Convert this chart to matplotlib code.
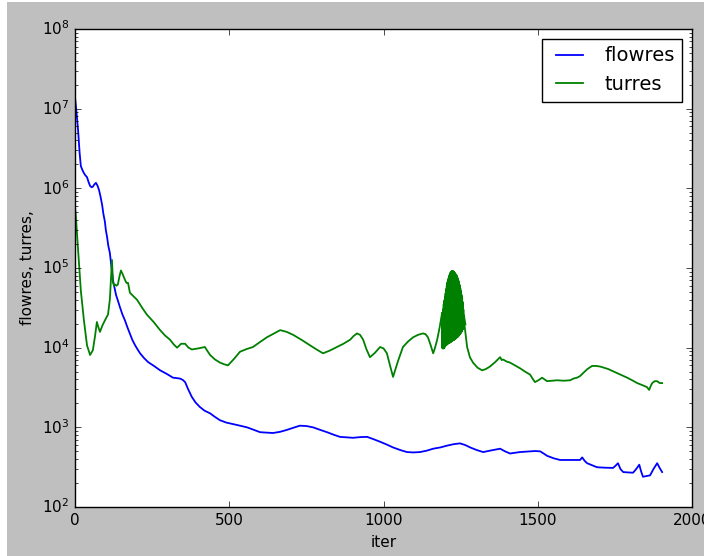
import numpy as np
import matplotlib
matplotlib.use('Agg')
import matplotlib.pyplot as plt
from matplotlib.patches import Rectangle

# Residual histories
flow_iter = [0, 5, 10, 15, 19, 24, 29, 34, 39, 44, 49, 54, 58, 63, 68, 73, 78, 83,
             88, 92, 97, 100, 104, 108, 113, 118, 123, 128, 133, 140, 146, 154,
             162, 170, 178, 186, 195, 203, 211, 224, 237, 256, 276, 297, 318,
             330, 340, 349, 357, 367, 379, 391, 405, 420, 438, 454, 470, 490,
             512, 535, 558, 580, 600, 620, 642, 665, 687, 708, 729, 750, 772,
             795, 817, 838, 859, 880, 901, 925, 947, 968, 989, 1010, 1031, 1054,
             1076, 1097, 1118, 1140, 1161, 1184, 1206, 1227, 1248, 1265, 1281,
             1302, 1323, 1350, 1378, 1394, 1410, 1442, 1475, 1492, 1508, 1519,
             1530, 1551, 1572, 1605, 1637, 1644, 1652, 1660, 1676, 1692, 1718,
             1744, 1752, 1760, 1768, 1777, 1793, 1809, 1819, 1829, 1835, 1841,
             1852, 1864, 1875, 1887, 1895, 1903]
flowres = [1.4e7, 9.0e6, 5.4e6, 2.8e6, 1.9e6, 1.7e6, 1.55e6, 1.45e6, 1.38e6,
           1.2e6, 1.07e6, 1.03e6, 1.05e6, 1.12e6, 1.17e6, 1.08e6, 9.5e5, 7.8e5,
           6.2e5, 4.8e5, 3.8e5, 3.0e5, 2.45e5, 1.9e5, 1.55e5, 1.05e5, 7.1e4,
           5.7e4, 4.6e4, 3.8e4, 3.2e4, 2.6e4, 2.2e4, 1.8e4, 1.5e4, 1.25e4,
           1.07e4, 9.5e3, 8.5e3, 7.4e3, 6.6e3, 5.9e3, 5.2e3, 4.7e3, 4.2e3,
           4.15e3, 4.1e3, 3.95e3, 3.7e3, 3.0e3, 2.4e3, 2.05e3, 1.8e3, 1.62e3,
           1.5e3, 1.35e3, 1.23e3, 1.15e3, 1.1e3, 1.05e3, 1.0e3, 930, 870, 860,
           850, 880, 930, 990, 1050, 1040, 1000, 930, 870, 810, 760, 750, 740,
           755, 760, 710, 660, 610, 560, 520, 490, 485, 490, 510, 540, 560, 590,
           615, 630, 600, 560, 520, 490, 515, 540, 500, 470, 490, 500, 505, 500,
           470, 440, 410, 390, 390, 390, 420, 380, 355, 335, 316, 312, 310, 330,
           355, 300, 275, 272, 270, 300, 340, 280, 240, 245, 250, 300, 355, 310,
           275]

turr_iter = [0, 3, 10, 19, 29, 39, 49, 58, 65, 71, 76, 81, 89, 97, 102, 107, 113,
             120, 123, 127, 130, 135, 139, 144, 149, 155, 162, 167, 172, 178,
             190, 201, 217, 233, 255, 276, 292, 308, 320, 331, 344, 357, 368,
             379, 400, 421, 430, 438, 454, 470, 483, 496, 515, 535, 556, 577,
             600, 622, 644, 665, 686, 707, 735, 762, 783, 804, 826, 849, 870,
             892, 903, 914, 924, 934, 945, 956, 972, 989, 1000, 1011, 1021, 1031,
             1047, 1063, 1080, 1096, 1112, 1128, 1136, 1144, 1152, 1161, 1167,
             1174, 1182, 1190,
             1192, 1193, 1194, 1195, 1196, 1197, 1198, 1199, 1200, 1201, 1202,
             1203, 1204, 1205, 1206, 1207, 1208, 1209, 1210, 1211, 1212, 1213,
             1214, 1215, 1216, 1217, 1218, 1219, 1220, 1221, 1222, 1223, 1224,
             1225, 1226, 1227, 1228, 1229, 1230, 1231, 1232, 1233, 1234, 1235,
             1236, 1237, 1238, 1239, 1240, 1241, 1242, 1243, 1244, 1245, 1246,
             1247, 1248, 1249, 1250, 1251, 1252, 1253, 1254, 1255, 1256, 1257,
             1258, 1262,
             1271, 1280, 1290, 1305, 1320, 1332, 1345, 1362, 1378, 1383, 1388,
             1399, 1410, 1426, 1443, 1459, 1475, 1483, 1491, 1502, 1514, 1522,
             1530, 1546, 1563, 1584, 1605, 1616, 1627, 1637, 1647, 1661, 1676,
             1689, 1702, 1715, 1728, 1742, 1757, 1773, 1790, 1806, 1822, 1838,
             1854, 1861, 1866, 1871, 1879, 1887, 1895, 1903]
turres = [6.0e5, 4.4e5, 1.7e5, 5.2e4, 2.2e4, 1.07e4, 8.1e3, 9.3e3, 1.4e4, 2.1e4,
          1.8e4, 1.58e4, 1.9e4, 2.2e4, 2.4e4, 2.6e4, 4.0e4, 1.26e5, 6.6e4,
          6.0e4, 6.2e4, 6.0e4, 6.2e4, 7.8e4, 9.3e4, 8.3e4, 7.1e4, 6.5e4, 6.5e4,
          4.9e4, 4.4e4, 4.0e4, 3.2e4, 2.6e4, 2.1e4, 1.66e4, 1.42e4, 1.26e4,
          1.1e4, 1.0e4, 1.12e4, 1.12e4, 1.0e4, 9.5e3, 9.8e3, 1.02e4, 9.0e3,
          8.1e3, 7.1e3, 6.5e3, 6.2e3, 6.0e3, 7.2e3, 8.9e3, 9.6e3, 1.02e4,
          1.18e4, 1.35e4, 1.5e4, 1.66e4, 1.58e4, 1.45e4, 1.25e4, 1.07e4, 9.5e3,
          8.5e3, 9.2e3, 1.02e4, 1.12e4, 1.26e4, 1.4e4, 1.51e4, 1.45e4, 1.26e4,
          9.5e3, 7.6e3, 8.6e3, 1.02e4, 9.8e3, 8.5e3, 6.0e3, 4.3e3, 6.8e3,
          1.02e4, 1.2e4, 1.35e4, 1.45e4, 1.51e4, 1.48e4, 1.35e4, 1.1e4, 8.5e3,
          1.0e4, 1.26e4, 1.8e4, 2.75e4,
          2.24e4, 1.0e4, 2.6e4, 1.02e4, 3.0e4, 1.05e4, 3.5e4, 1.08e4, 3.9e4,
          1.1e4, 4.3e4, 1.11e4, 4.8e4, 1.13e4, 5.4e4, 1.15e4, 6.0e4, 1.16e4,
          6.6e4, 1.17e4, 7.0e4, 1.18e4, 7.5e4, 1.2e4, 8.0e4, 1.21e4, 8.4e4,
          1.23e4, 8.7e4, 1.25e4, 8.9e4, 1.26e4, 8.9e4, 1.27e4, 8.8e4, 1.29e4,
          8.6e4, 1.3e4, 8.4e4, 1.32e4, 8.2e4, 1.34e4, 8.0e4, 1.36e4, 7.7e4,
          1.38e4, 7.3e4, 1.4e4, 6.9e4, 1.43e4, 6.5e4, 1.46e4, 6.1e4, 1.5e4,
          5.6e4, 1.53e4, 5.1e4, 1.57e4, 4.6e4, 1.62e4, 4.2e4, 1.68e4, 3.7e4,
          1.75e4, 3.0e4, 1.9e4, 2.5e4, 2.0e4,
          1.02e4, 7.6e3, 6.5e3, 5.6e3, 5.2e3, 5.4e3, 5.8e3, 6.6e3, 7.6e3,
          7.0e3, 7.1e3, 6.7e3, 6.5e3, 6.0e3, 5.5e3, 5.0e3, 4.6e3, 4.1e3,
          3.7e3, 3.9e3, 4.2e3, 4.0e3, 3.8e3, 3.85e3, 3.9e3, 3.85e3, 3.9e3,
          4.1e3, 4.2e3, 4.4e3, 4.8e3, 5.4e3, 5.9e3, 5.9e3, 5.8e3, 5.6e3, 5.4e3,
          5.1e3, 4.8e3, 4.5e3, 4.2e3, 3.9e3, 3.6e3, 3.4e3, 3.2e3, 2.95e3,
          3.3e3, 3.6e3, 3.8e3, 3.8e3, 3.6e3, 3.6e3]

plt.style.use('classic')
plt.rcParams['font.size'] = 11
plt.rcParams['path.simplify'] = False

fig = plt.figure(figsize=(7.04, 5.56), dpi=100)
ax = fig.add_axes([0.1065, 0.088, 0.8765, 0.86])

ax.semilogy(flow_iter, flowres, 'b', lw=1.3, label='flowres')
ax.semilogy(turr_iter, turres, 'g', lw=1.3, label='turres')
# the fast oscillation around iter 1200 reads as a solid band in the reference
ax.semilogy(turr_iter[96:164], turres[96:164], 'g', lw=2.6)

ax.set_xlim(0, 2000)
ax.set_ylim(1e2, 1e8)
ax.set_xticks([0, 500, 1000, 1500, 2000])
ax.set_xlabel('iter', fontsize=11)
ax.set_ylabel('flowres, turres,', fontsize=11)
ax.tick_params(labelsize=11)
ax.legend(loc='upper right', fontsize=14)

# screenshot crop leaves a thin white strip on the left and top
fig.patches.append(Rectangle((0, 0), 7 / 704, 1, transform=fig.transFigure,
                             facecolor='white', edgecolor='none', zorder=-1))
fig.patches.append(Rectangle((0, 1 - 2 / 556), 1, 2 / 556, transform=fig.transFigure,
                             facecolor='white', edgecolor='none', zorder=-1))

fig.savefig('out.png', dpi=100, facecolor=fig.get_facecolor())
